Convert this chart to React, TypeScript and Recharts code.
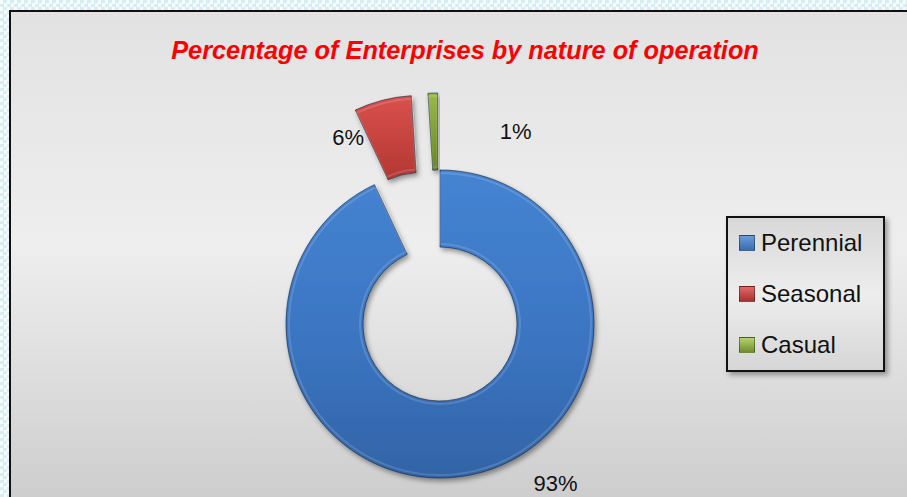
import React from 'react';
import { PieChart, Pie, Cell, Sector, Legend } from 'recharts';

// share of enterprises (labels show the rounded values)
const categories = ['Perennial', 'Seasonal', 'Casual'];
const shares = [93, 6, 1];

const data = categories.map((name, i) => ({ name, value: shares[i] }));

const FONT = '"Liberation Sans", Arial, sans-serif';
const RADIAN = Math.PI / 180;

// style lookups, by category
const FILLS: Record<string, string> = {
  Perennial: 'url(#gBlue)',
  Seasonal: 'url(#gRed)',
  Casual: 'url(#gGreen)',
};
const SWATCH: Record<string, string> = {
  Perennial: 'linear-gradient(to bottom, #6a9cdb, #3a6cae)',
  Seasonal: 'linear-gradient(to bottom, #e06a66, #a8322f)',
  Casual: 'linear-gradient(to bottom, #b5d26e, #6f8f2c)',
};
const EXPLODE: Record<string, number> = { Perennial: 0, Seasonal: 77, Casual: 77 };
const LABEL_NUDGE: Record<string, [number, number]> = {
  Perennial: [72, -36],
  Seasonal: [-42, 7],
  Casual: [82, 7],
};

const ExplodedSector = (props: any) => {
  const { cx, cy, innerRadius, outerRadius, startAngle, endAngle, midAngle, fill } = props;
  const name = props.name ?? props.payload?.name;
  const d = EXPLODE[name] ?? 0;
  const dx = d * Math.cos(-midAngle * RADIAN);
  const dy = d * Math.sin(-midAngle * RADIAN);
  return (
    <g filter="url(#shadow)">
      <Sector
        cx={cx + dx}
        cy={cy + dy}
        innerRadius={innerRadius}
        outerRadius={outerRadius}
        startAngle={startAngle}
        endAngle={endAngle}
        fill={fill}
        stroke="rgba(15,30,60,0.6)"
        strokeWidth={1}
      />
      <Sector
        cx={cx + dx}
        cy={cy + dy}
        innerRadius={innerRadius + 3}
        outerRadius={outerRadius - 3}
        startAngle={startAngle}
        endAngle={endAngle}
        fill="none"
        stroke="rgba(255,255,255,0.14)"
        strokeWidth={2}
      />
    </g>
  );
};

const renderLabel = (props: any) => {
  const { cx, cy, midAngle, percent } = props;
  const name = props.name ?? props.payload?.name;
  const [nx, ny] = LABEL_NUDGE[name] ?? [0, 0];
  const r = 200;
  const x = cx + r * Math.cos(-midAngle * RADIAN) + nx;
  const y = cy + r * Math.sin(-midAngle * RADIAN) + ny;
  return (
    <text x={x} y={y} fill="#111" fontSize={22} fontFamily={FONT} textAnchor="middle" dominantBaseline="central">
      {`${Math.round(percent * 100)}%`}
    </text>
  );
};

const LegendBox = (props: any) => {
  const items = [...(props.payload || [])].sort(
    (a: any, b: any) => categories.indexOf(a.value) - categories.indexOf(b.value)
  );
  return (
    <div
      style={{
        width: 144,
        height: 152,
        border: '2px solid #111',
        boxShadow: '3px 3px 5px rgba(0,0,0,0.35)',
        background: 'linear-gradient(to bottom, #d8d8d8, #ededed 50%, #d6d6d6)',
        display: 'flex',
        flexDirection: 'column',
        justifyContent: 'center',
        gap: 23,
        paddingLeft: 11,
        boxSizing: 'content-box',
      }}
    >
      {items.map((it: any) => (
        <div key={it.value} style={{ display: 'flex', alignItems: 'center', height: 28 }}>
          <div
            style={{
              width: 14,
              height: 14,
              background: SWATCH[it.value],
              border: '1px solid rgba(0,0,0,0.35)',
              marginRight: 6,
            }}
          />
          <span style={{ fontFamily: FONT, fontSize: 24, color: '#111', lineHeight: '28px' }}>{it.value}</span>
        </div>
      ))}
    </div>
  );
};

export default function App() {
  return (
    <div
      style={{
        position: 'absolute',
        left: 0,
        top: 0,
        width: 907,
        height: 497,
        overflow: 'hidden',
        backgroundColor: '#f6fbfc',
        backgroundImage: 'conic-gradient(#d8edf3 25%, #f6fbfc 0 50%, #d8edf3 0 75%, #f6fbfc 0)',
        backgroundSize: '7px 7px',
      }}
    >
      <div
        style={{
          position: 'absolute',
          left: 9,
          top: 10,
          width: 920,
          height: 520,
          border: '2.5px solid #111',
          background: 'linear-gradient(to bottom, #e2e2e2 0%, #eeeeee 45%, #c9c9c9 100%)',
        }}
      />
      <div
        style={{
          position: 'absolute',
          left: 0,
          top: 38,
          width: 930,
          textAlign: 'center',
          fontFamily: FONT,
          fontWeight: 'bold',
          fontStyle: 'italic',
          fontSize: 25.3,
          lineHeight: '25px',
          color: '#ff0000',
        }}
      >
        Percentage of Enterprises by nature of operation
      </div>
      <div style={{ position: 'absolute', left: 0, top: 0 }}>
        <PieChart width={907} height={497} margin={{ top: 0, right: 0, bottom: 0, left: 0 }}>
          <defs>
            <linearGradient id="gBlue" x1="0" y1="169" x2="0" y2="478" gradientUnits="userSpaceOnUse">
              <stop offset="0%" stopColor="#4584d2" />
              <stop offset="55%" stopColor="#3b75c2" />
              <stop offset="100%" stopColor="#3264a6" />
            </linearGradient>
            <linearGradient id="gRed" x1="0" y1="0" x2="0" y2="1">
              <stop offset="0%" stopColor="#d9514c" />
              <stop offset="100%" stopColor="#b33733" />
            </linearGradient>
            <linearGradient id="gGreen" x1="0" y1="0" x2="0" y2="1">
              <stop offset="0%" stopColor="#98b94a" />
              <stop offset="100%" stopColor="#688826" />
            </linearGradient>
            <filter id="shadow" x="-20%" y="-20%" width="140%" height="140%">
              <feDropShadow dx="2" dy="3" stdDeviation="2.5" floodColor="#000" floodOpacity="0.4" />
            </filter>
          </defs>
          <Pie
            data={data}
            dataKey="value"
            nameKey="name"
            cx={440}
            cy={324}
            innerRadius={77}
            outerRadius={154}
            startAngle={90}
            endAngle={-270}
            stroke="none"
            shape={ExplodedSector}
            label={renderLabel}
            labelLine={false}
            isAnimationActive={false}
          >
            {data.map((d) => (
              <Cell key={d.name} fill={FILLS[d.name]} />
            ))}
          </Pie>
          <Legend
            content={<LegendBox />}
            wrapperStyle={{ position: 'absolute', left: 726, top: 216, width: 'auto', bottom: 'auto', right: 'auto' }}
          />
        </PieChart>
      </div>
    </div>
  );
}
